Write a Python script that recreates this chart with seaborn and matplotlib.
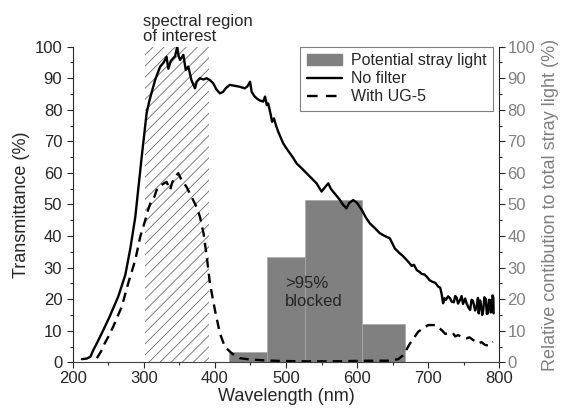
import numpy as np
import matplotlib
matplotlib.use('Agg')
import matplotlib.pyplot as plt
from matplotlib.patches import Patch
from matplotlib.lines import Line2D
from matplotlib.ticker import MultipleLocator
import seaborn as sns

# ====================== DATA ======================
# Transmittance without filter (%)
wl_nofilter = [213, 220, 225, 229, 235, 243, 252, 264, 274, 281, 288, 295, 297, 304, 308,
               316, 323, 328, 332, 334.5, 338, 341.5, 344, 347, 349, 351, 355.6, 359, 362.6,
               367, 372, 374.4, 379, 384, 388.5, 393, 397.7, 402, 407, 411.5, 416, 421, 428,
               435, 442, 446, 449.4, 451.7, 455, 458.8, 463, 468, 470.5, 473, 475, 478, 480.4,
               483, 486, 489, 496, 500, 505.6, 510, 515, 522, 529, 536, 543, 550, 555, 559.5,
               563, 566.5, 571, 576, 580, 585, 589, 594.6, 600, 606.5, 612, 618, 625, 632, 639,
               646, 653, 660, 664, 669.7, 673, 677, 680, 684, 688, 691, 695, 698, 702, 706, 710,
               714, 717, 719, 721, 723, 725, 728, 730.7, 733, 736, 738, 740, 742, 744.7, 747,
               749, 752, 754, 757, 759, 761, 763, 766, 768, 770, 771, 773, 774, 776, 777.5,
               779, 781, 782.5, 784, 785.5, 787, 788, 789, 790.5, 791.6, 792]
t_nofilter = [1.0, 1.2, 1.8, 3.9, 6.5, 10.2, 14.5, 20.8, 27.7, 36, 46, 61, 65, 79, 83,
              89.5, 93.7, 95, 96.8, 93, 95.5, 96.4, 97, 100, 97, 95.8, 97.4, 92.6, 93.7,
              89.4, 86.8, 88.9, 90, 89.6, 90, 89.4, 88.4, 86.5, 85.2, 85.7, 87, 87.9, 87.6,
              87.3, 86.8, 87.5, 88.9, 85.7, 84.5, 83.6, 83, 82.6, 84.2, 81.5, 82, 79, 76.2,
              77.3, 75, 73.1, 69.4, 68, 66.2, 64.8, 63, 61.5, 59.9, 58.3, 56.7, 54.1, 55.5, 56.7,
              55, 54, 52.8, 51.4, 50, 48.8, 50.5, 51.4, 50.5, 48.3, 46, 44, 42.5, 40.9, 40,
              39.3, 36.1, 34.5, 33.8, 32.4, 31.6, 30.5, 30.9, 29.2, 28.6, 28, 27.8, 27.1, 26.0, 25.5, 25.2,
              24, 23.6, 21.5, 18.7, 20.3, 19.8, 20.9, 20.3, 19.2, 19, 21.0, 20.5, 18.6, 19.7, 21.0,
              18.5, 20.2, 18.7, 17.2, 16.6, 19.8, 19.5, 16.4, 17.6, 20.4, 15.5, 19.6, 18.5, 15.0, 16.6,
              20.6, 20, 15.3, 15.5, 19.8, 19.7, 15.8, 16, 21.2, 20.5, 15.5]

# Transmittance with UG-5 filter (%)
wl_ug5 = [234, 240, 245, 251, 257, 263, 269, 278, 288, 295, 302, 306, 311, 315, 318, 322,
          325, 332, 337, 340, 344, 348.5, 353, 360, 367, 374, 379, 384, 388.5, 393, 400,
          407, 414, 424, 435, 449, 470, 496, 530, 560, 590, 618, 646, 658, 665, 674.5, 686,
          700, 710, 719, 724, 728, 735, 738, 742, 748, 754, 758, 763, 770.5, 775, 780, 785,
          787, 791]
t_ug5 = [1.3, 3.5, 6, 8.5, 11.3, 14.5, 17.6, 25, 32.4, 39.8, 45, 48.3, 51.4, 52.5, 54.6, 55,
         56.2, 57.2, 54.6, 57, 58.8, 59.9, 57.8, 55.6, 52.5, 49.3, 46.1, 40.9, 33.5, 25, 16.6,
         9.2, 4.9, 2.8, 1.3, 0.9, 0.6, 0.4, 0.3, 0.3, 0.4, 0.5, 0.5, 1.0, 2.3, 6, 9.7,
         11.8, 11.8, 10.2, 9.0, 9.2, 9.2, 8.2, 8.6, 8.0, 7.6, 7.9, 7.1, 6, 6.4, 5.5, 5.3,
         6, 6.5]

# Relative contribution to total stray light (%)
stray_edges = [420, 473, 527, 607, 667]
stray_contrib = [3.2, 33.3, 51.5, 12.0]

roi = (302, 392)  # spectral region of interest (nm)

# ====================== STYLE ======================
sns.set_style('ticks')
plt.rcParams['font.family'] = ['Liberation Sans', 'DejaVu Sans']
plt.rcParams['hatch.linewidth'] = 0.6
GREY = '#808080'

fig = plt.figure(figsize=(5.61, 4.15), dpi=100)
ax1 = fig.add_axes([0.1296, 0.127, 0.7604, 0.7605])
ax2 = ax1.twinx()

# stray light histogram on the right axis
centers = [(a + b) / 2 for a, b in zip(stray_edges[:-1], stray_edges[1:])]
sns.histplot(x=centers, weights=stray_contrib, bins=stray_edges, ax=ax2,
             color=GREY, alpha=1, edgecolor='#a8a8a8', linewidth=0.5)

# hatched region of interest
ax1.axvspan(*roi, ymin=0, ymax=1, facecolor='none', edgecolor='#6a6a6a',
            hatch='///', linewidth=0)

sns.lineplot(x=wl_nofilter, y=t_nofilter, ax=ax1, color='black', lw=1.7,
             estimator=None, sort=False)
sns.lineplot(x=wl_ug5, y=t_ug5, ax=ax1, color='black', lw=1.7,
             estimator=None, sort=False)
ax1.lines[-1].set_dashes((4, 2.6))

ax1.set_zorder(ax2.get_zorder() + 1)
ax1.patch.set_visible(False)

for ax in (ax1, ax2):
    ax.set_xlim(200, 800)
    ax.set_ylim(0, 100)
    ax.yaxis.set_major_locator(MultipleLocator(10))
    ax.yaxis.set_minor_locator(MultipleLocator(5))
    ax.tick_params(which='major', direction='out', length=4, width=0.8, labelsize=12)
    ax.tick_params(which='minor', direction='out', length=2.5, width=0.8)
    ax.spines['top'].set_visible(False)
ax1.xaxis.set_major_locator(MultipleLocator(100))
ax1.xaxis.set_minor_locator(MultipleLocator(50))
ax1.tick_params(axis='x', pad=2)
ax1.spines['right'].set_visible(False)
ax1.spines['bottom'].set_color('#404040')
ax2.spines['left'].set_visible(False)
ax2.spines['bottom'].set_visible(False)
ax2.tick_params(axis='y', labelcolor=GREY, pad=2)

ax1.set_xlabel('Wavelength (nm)', fontsize=13, labelpad=2)
ax1.set_ylabel('Transmittance (%)', fontsize=13, labelpad=3)
ax2.set_ylabel('Relative contibution to total stray light (%)', fontsize=13,
               color=GREY, labelpad=5)

ax1.text(299, 101, 'spectral region\nof interest', fontsize=12, va='bottom',
         ha='left', linespacing=1.0, clip_on=False)
ax1.text(499, 27.5, '>95%\nblocked', fontsize=12, va='top', ha='left', linespacing=1.3)

handles = [Patch(facecolor=GREY, edgecolor=GREY),
           Line2D([], [], color='black', lw=1.7),
           Line2D([], [], color='black', lw=1.7, dashes=(4.5, 3.5))]
labels = ['Potential stray light', 'No filter', 'With UG-5']
leg = ax1.legend(handles, labels, loc='upper right', bbox_to_anchor=(0.986, 1.0),
                 borderaxespad=0, fontsize=11.5, frameon=True, fancybox=False,
                 handlelength=2.2, handletextpad=0.6, labelspacing=0.2,
                 borderpad=0.4, edgecolor='#606060')
leg.get_frame().set_linewidth(0.8)

fig.savefig('out.png', dpi=100)
